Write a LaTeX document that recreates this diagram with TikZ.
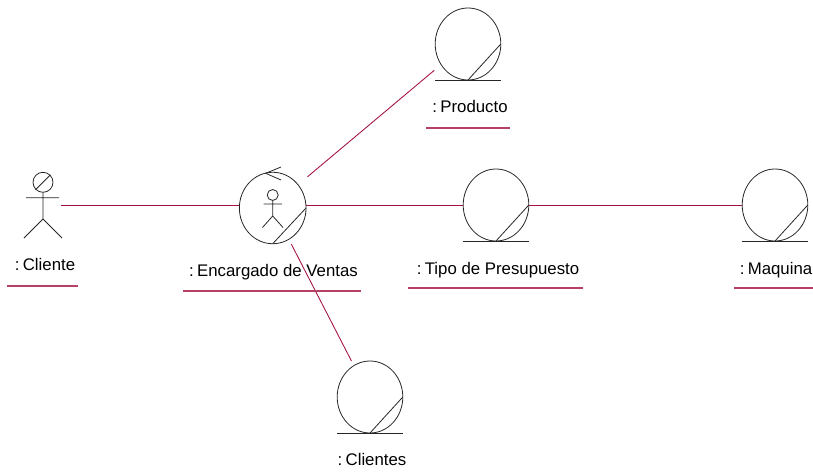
\documentclass[tikz,border=0pt]{standalone}
\usepackage{fontspec}
\setmainfont{Liberation Sans}
\usetikzlibrary{shapes.geometric}
\definecolor{link}{HTML}{A5123F}
\newcommand{\cgap}{:\hspace{0.2em}}
\tikzset{
  x=0.75pt,y=-0.75pt,
  ink/.style={draw=black!85,line width=0.6pt},
  entity/.style={ellipse,draw=black!85,line width=0.6pt,minimum width=49.2pt,minimum height=54pt,inner sep=0pt,outer sep=0pt},
  conn/.style={draw=link,line width=0.65pt},
  ulin/.style={draw=link!80,line width=0.8pt},
  lbl/.style={font=\fontsize{12.6pt}{14pt}\selectfont,inner sep=0pt,text=black,anchor=base}
}
\begin{document}
\begin{tikzpicture}
\useasboundingbox (0,0) rectangle (813,474);
% entities
\node[entity] (prod) at (468,44) {};
\node[entity] (tipo) at (496,205) {};
\node[entity] (maq) at (775,205) {};
\node[entity] (cli) at (370,397) {};
\node[entity,minimum width=50pt,minimum height=53.6pt] (enc) at (272.7,208) {};
\foreach \e in {prod,tipo,maq,cli}{
  \draw[ink] (\e.west |- \e.south) -- (\e.east |- \e.south);
  \draw[ink] (\e.south) -- (\e.east);
}
\draw[ink] (enc.south) -- (enc.east);
% self-loop arrow
\coordinate (a1) at (281,167);
\coordinate (a2) at (265.7,173.3);
\coordinate (a3) at (281,180);
\draw[ink] (a1) -- (a2) -- (a3);
% inner actor
\node[circle,draw=black!85,line width=0.6pt,minimum size=8.2pt,inner sep=0pt] (ih) at (272.7,195) {};
\coordinate (ib) at (272.7,216);
\coordinate (ial) at (263.5,204);
\coordinate (iar) at (282,204);
\coordinate (ill) at (262.5,227.5);
\coordinate (ilr) at (283,227.5);
\draw[ink] (ih) -- (ib) (ial) -- (iar) (ill) -- (ib) -- (ilr);
% actor Cliente
\node[circle,draw=black!85,line width=0.6pt,minimum size=15pt,inner sep=0pt] (ah) at (43,182.3) {};
\coordinate (ab) at (43,219);
\coordinate (aal) at (26,197.7);
\coordinate (aar) at (59,197.7);
\coordinate (all) at (24,238);
\coordinate (alr) at (62,238);
\coordinate (act) at (61,205.3);
\draw[ink] (ah) -- (ab) (aal) -- (aar) (all) -- (ab) -- (alr);
\draw[ink] (ah.225) -- (ah.45);
% connectors
\draw[conn] (act) -- (enc.west |- act);
\draw[conn] (enc.east |- tipo.west) -- (tipo.west);
\draw[conn] (tipo.east) -- (maq.west);
\draw[conn,shorten <=34.1pt,shorten >=33pt] ([yshift=1.5pt]enc.center) -- ([yshift=1.5pt]prod.center);
\draw[conn,shorten <=4pt,shorten >=4pt] (enc) -- (cli);
% labels
\node[lbl] (lcli) at (45,270.7) {\cgap Cliente};
\node[lbl] (lenc) at (273.5,276.7) {\cgap Encargado de Ventas};
\node[lbl] (lprod) at (470,112.7) {\cgap Producto};
\node[lbl] (ltipo) at (498,274) {\cgap Tipo de Presupuesto};
\node[lbl] (lmaq) at (776,274) {\cgap Maquina};
\node[lbl] (lclis) at (372,465.7) {\cgap Clientes};
% underlines
\coordinate (u1a) at (7,286); \coordinate (u1b) at (78,286);
\coordinate (u2a) at (183,291); \coordinate (u2b) at (361,291);
\coordinate (u3a) at (426,128); \coordinate (u3b) at (509.5,128);
\coordinate (u4a) at (408,288); \coordinate (u4b) at (583,288);
\coordinate (u5a) at (734,288); \coordinate (u5b) at (813,288);
\draw[ulin] (u1a)--(u1b);
\draw[ulin] (u2a)--(u2b);
\draw[ulin] (u3a)--(u3b);
\draw[ulin] (u4a)--(u4b);
\draw[ulin] (u5a)--(u5b);
\end{tikzpicture}
\end{document}
